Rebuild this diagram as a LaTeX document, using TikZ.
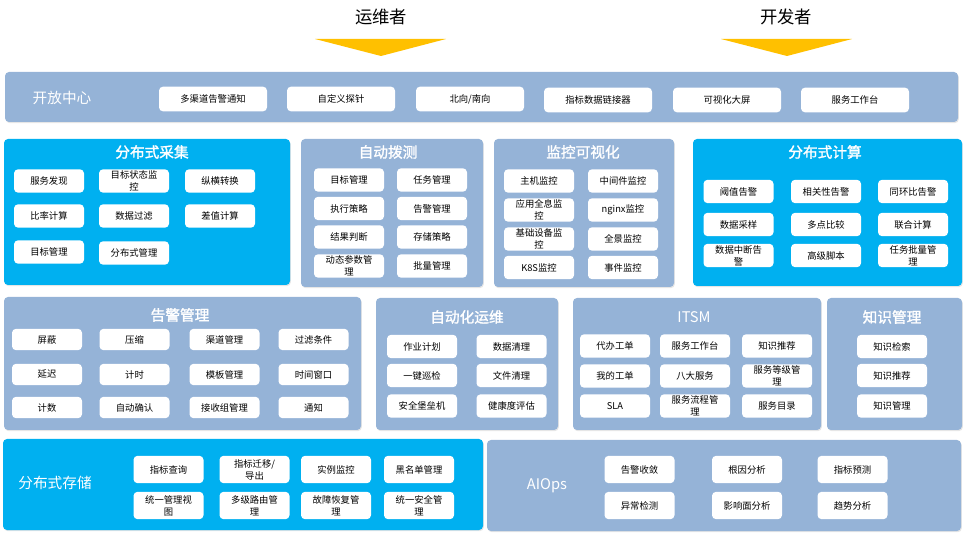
\documentclass[tikz,border=0pt]{standalone}
\usepackage{fontspec}
\setmainfont{Noto Sans CJK SC}
\newfontfamily\headfont[FakeBold=1.6]{Noto Sans CJK SC}
\usetikzlibrary{fit,shadows}
\definecolor{steelpanel}{RGB}{149,179,215}
\definecolor{cyanpanel}{RGB}{0,176,240}
\definecolor{arrowgold}{RGB}{255,192,0}

\begin{document}
\begin{tikzpicture}[
    x=0.75pt, y=-0.75pt,
    panelbox/.style={fill=steelpanel, rounded corners=3pt, inner sep=0pt, outer sep=0pt, drop shadow={shadow xshift=0.6pt, shadow yshift=-0.9pt, opacity=0.2}},
    cyanbox/.style={panelbox, fill=cyanpanel},
    itembox/.style={fill=white, rounded corners=3pt, minimum width=52.5pt, minimum height=17.5pt, inner sep=1pt, align=center, font=\fontsize{7}{9}\selectfont},
    widebox/.style={itembox, minimum width=81pt, minimum height=18.5pt},
    lowbox/.style={itembox, minimum height=16pt},
    tallbox/.style={itembox, minimum height=20.5pt},
    titletext/.style={text=white, font=\fontsize{11}{13}\selectfont},
    headtext/.style={text=white, font=\headfont\fontsize{11}{13}\selectfont},
    roletext/.style={font=\fontsize{13}{15}\selectfont}
]
\useasboundingbox (0,0) rectangle (964,534);

% Roles
\node[roletext] (ops) at (381,17) {运维者};
\node[roletext] (dev) at (786,17) {开发者};
\fill[arrowgold] (315,39) -- (446,39) -- (381,56) -- cycle;
\fill[arrowgold] (721,39) -- (852,39) -- (787,56) -- cycle;

% Open center
\node[panelbox, fit={(5,72) (958,122)}] (open) {};
\node[titletext] (openlbl) at (62,98) {开放中心};
\node[widebox] (o1) at (213,99) {多渠道告警通知};
\node[widebox] (o2) at (341,99) {自定义探针};
\node[widebox] (o3) at (470,99) {北向/南向};
\node[widebox] (o4) at (598,100) {指标数据链接器};
\node[widebox] (o5) at (727,100) {可视化大屏};
\node[widebox] (o6) at (855,100) {服务工作台};

% Distributed collection
\node[cyanbox, fit={(4,139) (290,285)}] (collect) {};
\node[headtext] (collectlbl) at (152,152) {分布式采集};
\node[itembox] (c1) at (49,181) {服务发现};
\node[itembox] (c2) at (134,181) {目标状态监\\控};
\node[itembox] (c3) at (220,181) {纵横转换};
\node[itembox] (c4) at (49,216) {比率计算};
\node[itembox] (c5) at (134,216) {数据过滤};
\node[itembox] (c6) at (220,216) {差值计算};
\node[itembox] (c7) at (49,252) {目标管理};
\node[itembox] (c8) at (134,253) {分布式管理};

% Dial test
\node[panelbox, fit={(301,139) (483,287)}] (probe) {};
\node[headtext] (probelbl) at (388,152) {自动拨测};
\node[itembox] (p1) at (349,180) {目标管理};
\node[itembox] (p2) at (432,180) {任务管理};
\node[itembox] (p3) at (349,208.5) {执行策略};
\node[itembox] (p4) at (432,208.5) {告警管理};
\node[itembox] (p5) at (349,237) {结果判断};
\node[itembox] (p6) at (432,237) {存储策略};
\node[itembox] (p7) at (349,266) {动态参数管\\理};
\node[itembox] (p8) at (432,266) {批量管理};

% Monitoring visualization
\node[panelbox, fit={(494,139) (674,287)}] (visual) {};
\node[headtext] (visuallbl) at (583,152) {监控可视化};
\node[itembox] (v1) at (539,181) {主机监控};
\node[itembox] (v2) at (623,181) {中间件监控};
\node[itembox] (v3) at (539,210) {应用全息监\\控};
\node[itembox] (v4) at (623,210) {nginx监控};
\node[itembox] (v5) at (539,239) {基础设备监\\控};
\node[itembox] (v6) at (623,239) {全景监控};
\node[itembox] (v7) at (539,267.5) {K8S监控};
\node[itembox] (v8) at (623,267.5) {事件监控};

% Distributed computing
\node[cyanbox, fit={(693,139) (962,286)}] (compute) {};
\node[headtext] (computelbl) at (825,152) {分布式计算};
\node[itembox] (k1) at (738.5,191.5) {阈值告警};
\node[itembox] (k2) at (826,191.5) {相关性告警};
\node[itembox] (k3) at (913,191.5) {同环比告警};
\node[itembox] (k4) at (738.5,224.5) {数据采样};
\node[itembox] (k5) at (826,224.5) {多点比较};
\node[itembox] (k6) at (913,224.5) {联合计算};
\node[itembox] (k7) at (738.5,255.5) {数据中断告\\警};
\node[itembox] (k8) at (826,255.5) {高级脚本};
\node[itembox] (k9) at (913,255.5) {任务批量管\\理};

% Alarm management
\node[panelbox, fit={(4,297) (361,430)}] (alarm) {};
\node[headtext] (alarmlbl) at (180,315) {告警管理};
\node[lowbox] (a1) at (47,339.5) {屏蔽};
\node[lowbox] (a2) at (134.5,339.5) {压缩};
\node[lowbox] (a3) at (224.5,339.5) {渠道管理};
\node[lowbox] (a4) at (313.5,339.5) {过滤条件};
\node[lowbox] (a5) at (47,374.5) {延迟};
\node[lowbox] (a6) at (134.5,374.5) {计时};
\node[lowbox] (a7) at (224.5,374.5) {模板管理};
\node[lowbox] (a8) at (313.5,374.5) {时间窗口};
\node[lowbox] (a9) at (47,407.5) {计数};
\node[lowbox] (a10) at (134.5,407.5) {自动确认};
\node[lowbox] (a11) at (224.5,407.5) {接收组管理};
\node[lowbox] (a12) at (313.5,407.5) {通知};

% Automated operations
\node[panelbox, fit={(376,298) (558,430)}] (autoops) {};
\node[headtext] (autoopslbl) at (467,317) {自动化运维};
\node[itembox] (u1) at (422,346.5) {作业计划};
\node[itembox] (u2) at (511.5,346.5) {数据清理};
\node[itembox] (u3) at (422,375.5) {一键巡检};
\node[itembox] (u4) at (511.5,375.5) {文件清理};
\node[itembox] (u5) at (422,406) {安全堡垒机};
\node[itembox] (u6) at (511.5,406) {健康度评估};

% ITSM
\node[panelbox, fit={(573,298) (821,430)}] (itsm) {};
\node[titletext] (itsmlbl) at (694,317) {ITSM};
\node[itembox] (t1) at (615,346) {代办工单};
\node[itembox] (t2) at (695,346) {服务工作台};
\node[itembox] (t3) at (777,346) {知识推荐};
\node[itembox] (t4) at (615,376) {我的工单};
\node[itembox] (t5) at (695,376) {八大服务};
\node[itembox] (t6) at (777,376) {服务等级管\\理};
\node[itembox] (t7) at (615,406) {SLA};
\node[itembox] (t8) at (695,406) {服务流程管\\理};
\node[itembox] (t9) at (777,406) {服务目录};

% Knowledge management
\node[panelbox, fit={(827,298) (962,430)}] (know) {};
\node[headtext] (knowlbl) at (892,317) {知识管理};
\node[itembox] (n1) at (892,346.5) {知识检索};
\node[itembox] (n2) at (892,375.5) {知识推荐};
\node[itembox] (n3) at (892,406) {知识管理};

% Distributed storage
\node[cyanbox, fit={(3,439) (483,530)}] (store) {};
\node[titletext] (storelbl) at (55,483) {分布式存储};
\node[tallbox] (s1) at (168.5,469.5) {指标查询};
\node[tallbox] (s2) at (254.5,469.5) {指标迁移/\\导出};
\node[tallbox] (s3) at (336,469.5) {实例监控};
\node[tallbox] (s4) at (419,469.5) {黑名单管理};
\node[tallbox] (s5) at (168.5,505.5) {统一管理视\\图};
\node[tallbox] (s6) at (254.5,505.5) {多级路由管\\理};
\node[tallbox] (s7) at (336,505.5) {故障恢复管\\理};
\node[tallbox] (s8) at (419,505.5) {统一安全管\\理};

% AIOps
\node[panelbox, fit={(487,440) (961,531)}] (aiops) {};
\node[titletext] (aiopslbl) at (547,486) {AIOps};
\node[tallbox] (i1) at (639.5,469.5) {告警收敛};
\node[tallbox] (i2) at (747,469.5) {根因分析};
\node[tallbox] (i3) at (852.5,469.5) {指标预测};
\node[tallbox] (i4) at (639.5,505.5) {异常检测};
\node[tallbox] (i5) at (747,505.5) {影响面分析};
\node[tallbox] (i6) at (852.5,505.5) {趋势分析};

\end{tikzpicture}
\end{document}
